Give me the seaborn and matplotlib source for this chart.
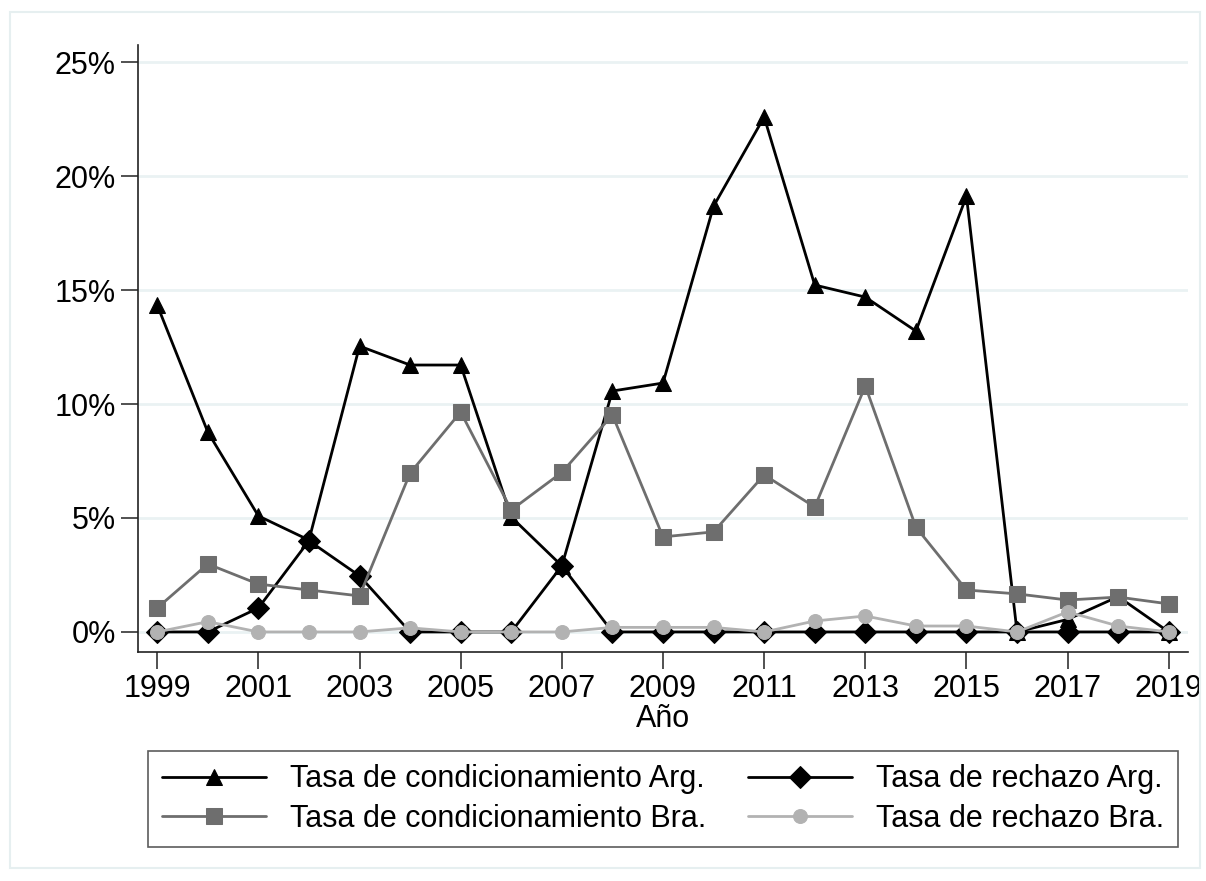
import matplotlib
matplotlib.use("Agg")
import matplotlib.pyplot as plt
import seaborn as sns
import numpy as np
from matplotlib.ticker import FuncFormatter

years = list(range(1999, 2020))

cond_arg = [14.34, 8.77, 5.09, 4.03, 12.54, 11.71, 11.71, 5.04, 2.9, 10.57, 10.92,
            18.68, 22.59, 15.22, 14.69, 13.2, 19.12, 0.0, 0.55, 1.55, 0.0]
rech_arg = [0.0, 0.0, 1.05, 4.0, 2.46, 0.0, 0.0, 0.0, 2.9, 0.0, 0.0,
            0.0, 0.0, 0.0, 0.0, 0.0, 0.0, 0.0, 0.0, 0.0, 0.0]
cond_bra = [1.05, 2.98, 2.1, 1.84, 1.58, 6.97, 9.65, 5.35, 7.0, 9.52, 4.17,
            4.39, 6.89, 5.48, 10.79, 4.6, 1.84, 1.67, 1.4, 1.53, 1.23]
rech_bra = [0.0, 0.45, 0.0, 0.0, 0.0, 0.18, 0.0, 0.0, 0.0, 0.2, 0.2,
            0.2, 0.0, 0.48, 0.7, 0.26, 0.26, 0.0, 0.88, 0.26, 0.0]

labels = ["Tasa de condicionamiento Arg.", "Tasa de rechazo Arg.",
          "Tasa de condicionamiento Bra.", "Tasa de rechazo Bra."]
series = [cond_arg, rech_arg, cond_bra, rech_bra]
colors = ["#000000", "#000000", "#6e6e6e", "#b2b2b2"]
markers = ["^", "D", "s", "o"]
msizes = [11, 11, 12, 10]

sns.set_style("white")
plt.rcParams["font.family"] = ["Liberation Sans", "DejaVu Sans"]
plt.rcParams["text.color"] = "black"
plt.rcParams["xtick.color"] = "black"
plt.rcParams["ytick.color"] = "black"
plt.rcParams["axes.labelcolor"] = "black"

fig = plt.figure(figsize=(12.06, 8.81), dpi=100)
ax = fig.add_axes([138 / 1206, 1 - 652 / 881, (1188 - 138) / 1206, (652 - 45) / 881])

for y in [0, 5, 10, 15, 20, 25]:
    ax.axhline(y, color="#eaf2f3", lw=2, zorder=0)

for vals, lab, c, m, ms in zip(series, labels, colors, markers, msizes):
    sns.lineplot(x=years, y=vals, ax=ax, color=c, marker=m, markersize=ms,
                 markeredgecolor=c, linewidth=2, label=lab, legend=False)

ax.set_xlim(1998.62, 2019.38)
ax.set_ylim(-0.88, 25.75)
ax.set_xticks(list(range(1999, 2020, 2)))
ax.set_yticks([0, 5, 10, 15, 20, 25])
ax.yaxis.set_major_formatter(FuncFormatter(lambda v, p: f"{int(v)}%"))
ax.tick_params(axis="both", direction="out", length=12, width=1.2, labelsize=22,
               color="#333333", left=True, bottom=True)
ax.tick_params(axis="x", pad=4)
ax.tick_params(axis="y", pad=4)
for s in ["top", "right"]:
    ax.spines[s].set_visible(False)
for s in ["left", "bottom"]:
    ax.spines[s].set_color("#222222")
    ax.spines[s].set_linewidth(1.2)
ax.set_xlabel("Año", fontsize=22, labelpad=0)
ax.set_ylabel("")

handles, labs = ax.get_legend_handles_labels()
order = [0, 2, 1, 3]
leg = fig.legend([handles[i] for i in order], [labs[i] for i in order],
                 loc="center", ncol=2, fontsize=22,
                 bbox_to_anchor=(148 / 1206, 1 - 848 / 881, (1178 - 148) / 1206, 98 / 881),
                 mode="expand", borderaxespad=0, frameon=True, fancybox=False,
                 edgecolor="#333333", handlelength=3.4, columnspacing=1.5,
                 borderpad=0.45, labelspacing=0.3)
leg.get_frame().set_linewidth(1.2)

frame = plt.Rectangle((10 / 1206, 1 - 868 / 881), 1190 / 1206, 856 / 881,
                      transform=fig.transFigure, fill=False, edgecolor="#e6eff0", lw=1.5)
fig.patches.append(frame)

fig.savefig("out.png", dpi=100)
